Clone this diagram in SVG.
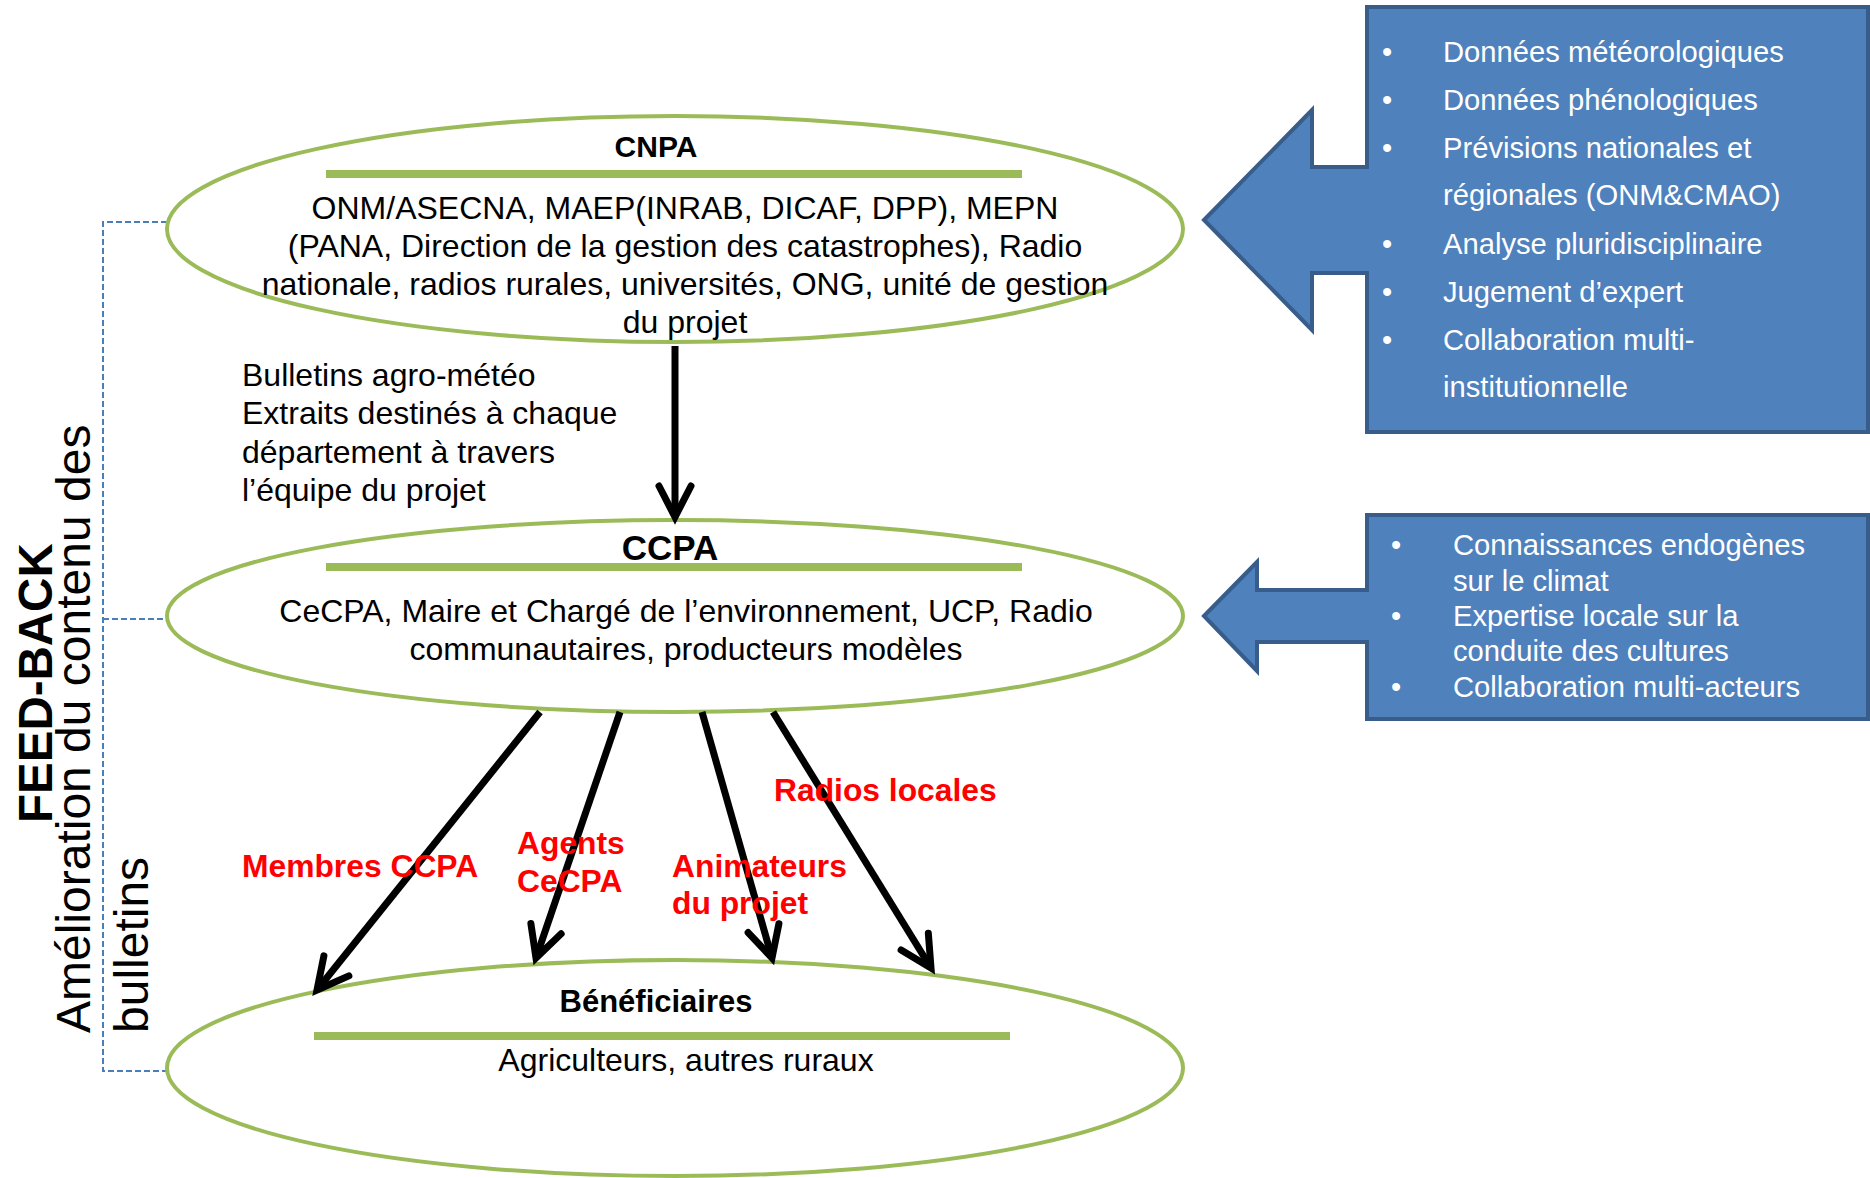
<svg xmlns="http://www.w3.org/2000/svg" width="1870" height="1178" viewBox="0 0 1870 1178">
<style>
text{font-family:"Liberation Sans",Arial,sans-serif;}
.ell{fill:none;stroke:#9bbb59;stroke-width:4;}
.bar{stroke:#9bbb59;stroke-width:8;}
.t{font-size:32px;fill:#000;}
.mid{text-anchor:middle;}
.h{font-weight:bold;fill:#000;}
.red{font-size:31.8px;font-weight:bold;fill:#ff0000;}
.arr{stroke:#000;stroke-width:7;fill:none;marker-end:url(#chev);}
.call{fill:#4f81bd;stroke:#385d8a;stroke-width:4;}
.w{font-size:29.2px;fill:#fff;}
.dash{fill:none;stroke:#4a7ebb;stroke-width:2;stroke-dasharray:6 3;}
</style>
<defs>
<marker id="chev" markerUnits="userSpaceOnUse" markerWidth="60" markerHeight="60" viewBox="-40 -30 60 60" refX="0" refY="0" orient="auto" overflow="visible">
<path d="M-31,-16 L0,0 L-31,16" fill="none" stroke="#000" stroke-width="7" stroke-linecap="round"/>
</marker>
</defs>
<rect width="1870" height="1178" fill="#fff"/>

<g id="feedback">
<path class="dash" d="M167,222 H103 V1071 H167 M103,619 H167"/>
<text transform="translate(52,823) rotate(-90)" style="font-size:47.5px;font-weight:bold;fill:#000">FEED-BACK</text>
<text transform="translate(90,1033) rotate(-90)" style="font-size:48px;fill:#000">Amélioration du contenu des</text>
<text transform="translate(148,1033) rotate(-90)" style="font-size:48px;fill:#000">bulletins</text>
</g>

<g id="cnpa">
<ellipse class="ell" cx="675" cy="229" rx="508" ry="113"/>
<text class="h mid" x="656" y="157" style="font-size:30px">CNPA</text>
<line class="bar" x1="326" y1="174" x2="1022" y2="174"/>
<text class="t mid" x="685" y="219">ONM/ASECNA, MAEP(INRAB, DICAF, DPP), MEPN</text>
<text class="t mid" x="685" y="257">(PANA, Direction de la gestion des catastrophes), Radio</text>
<text class="t mid" x="685" y="295">nationale, radios rurales, universités, ONG, unité de gestion</text>
<text class="t mid" x="685" y="333">du projet</text>
</g>

<g id="ccpa">
<ellipse class="ell" cx="675" cy="616" rx="508" ry="96"/>
<text class="h mid" x="670" y="560" style="font-size:35px">CCPA</text>
<line class="bar" x1="326" y1="567" x2="1022" y2="567"/>
<text class="t mid" x="686" y="622">CeCPA, Maire et Chargé de l’environnement, UCP, Radio</text>
<text class="t mid" x="686" y="660">communautaires, producteurs modèles</text>
</g>

<g id="beneficiaires">
<ellipse class="ell" cx="675" cy="1068" rx="508" ry="108"/>
<text class="h mid" x="656" y="1012" style="font-size:31px">Bénéficiaires</text>
<line class="bar" x1="314" y1="1036" x2="1010" y2="1036"/>
<text class="t mid" x="686" y="1071">Agriculteurs, autres ruraux</text>
</g>

<g id="bulletins-label">
<text class="t" x="242" y="386">Bulletins agro-météo</text>
<text class="t" x="242" y="424">Extraits destinés à chaque</text>
<text class="t" x="242" y="463">département à travers</text>
<text class="t" x="242" y="501">l’équipe du projet</text>
</g>

<g id="connectors">
<line class="arr" x1="675" y1="346" x2="675" y2="517"/>
<line class="arr" x1="540" y1="712" x2="317" y2="990"/>
<line class="arr" x1="620" y1="712" x2="536" y2="958"/>
<line class="arr" x1="702" y1="712" x2="772" y2="958"/>
<line class="arr" x1="773" y1="712" x2="931" y2="968"/>
</g>

<g id="channel-labels">
<text class="red" x="242" y="877">Membres CCPA</text>
<text class="red" x="517" y="854">Agents</text>
<text class="red" x="517" y="892">CeCPA</text>
<text class="red" x="672" y="877">Animateurs</text>
<text class="red" x="672" y="914">du projet</text>
<text class="red" x="774" y="801">Radios locales</text>
</g>

<g id="callout-national">
<path class="call" d="M1204,220 L1312,110 L1312,167 L1367,167 L1367,7 L1868,7 L1868,432 L1367,432 L1367,273 L1312,273 L1312,330 Z"/>
<g class="w">
<text class="mid" x="1387" y="62">•</text><text x="1443" y="62">Données météorologiques</text>
<text class="mid" x="1387" y="110">•</text><text x="1443" y="110">Données phénologiques</text>
<text class="mid" x="1387" y="158">•</text><text x="1443" y="158">Prévisions nationales et</text>
<text x="1443" y="205">régionales (ONM&amp;CMAO)</text>
<text class="mid" x="1387" y="254">•</text><text x="1443" y="254">Analyse pluridisciplinaire</text>
<text class="mid" x="1387" y="302">•</text><text x="1443" y="302">Jugement d’expert</text>
<text class="mid" x="1387" y="350">•</text><text x="1443" y="350">Collaboration multi-</text>
<text x="1443" y="397">institutionnelle</text>
</g>
</g>

<g id="callout-local">
<path class="call" d="M1204,616 L1257,562 L1257,590 L1367,590 L1367,515 L1868,515 L1868,719 L1367,719 L1367,642 L1257,642 L1257,671 Z"/>
<g class="w">
<text class="mid" x="1396" y="555">•</text><text x="1453" y="555">Connaissances endogènes</text>
<text x="1453" y="591">sur le climat</text>
<text class="mid" x="1396" y="626">•</text><text x="1453" y="626">Expertise locale sur la</text>
<text x="1453" y="661">conduite des cultures</text>
<text class="mid" x="1396" y="697">•</text><text x="1453" y="697">Collaboration multi-acteurs</text>
</g>
</g>
</svg>
